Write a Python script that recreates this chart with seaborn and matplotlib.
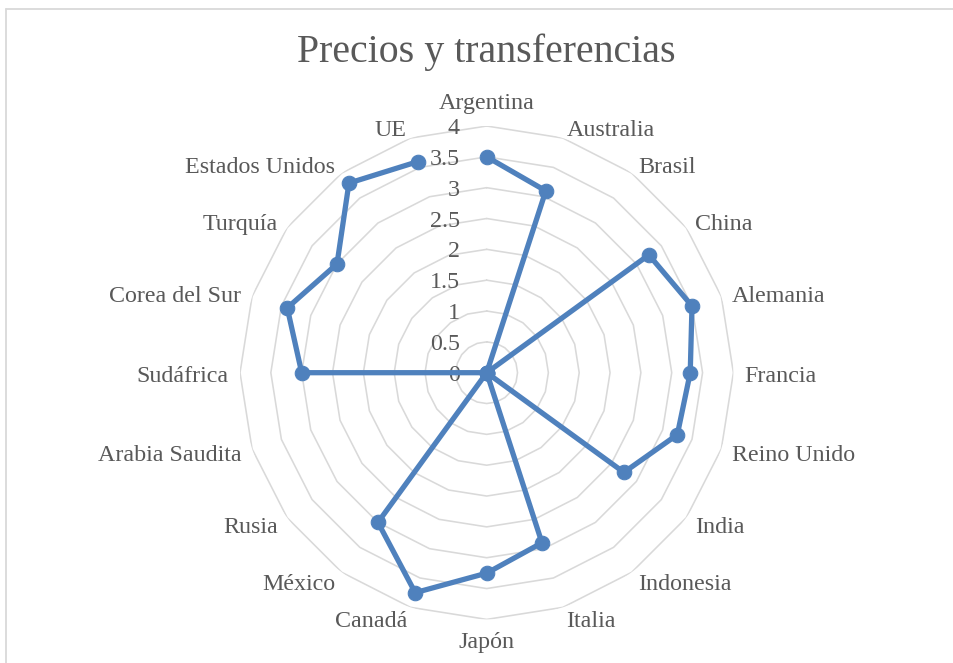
import numpy as np
import pandas as pd
import matplotlib
matplotlib.use("Agg")
import matplotlib.pyplot as plt
import seaborn as sns

# Country indicators for the radar
categories = ["Argentina", "Australia", "Brasil", "China", "Alemania", "Francia",
              "Reino Unido", "India", "Indonesia", "Italia", "Japón", "Canadá",
              "México", "Rusia", "Arabia Saudita", "Sudáfrica", "Corea del Sur",
              "Turquía", "Estados Unidos", "UE"]
values = [3.5, 3.1, 0, 3.25, 3.5, 3.3, 3.25, 2.75, 0, 2.9, 3.25, 3.75,
          3.0, 0, 0, 3.0, 3.4, 3.0, 3.8, 3.6]
r_ticks = [0, 0.5, 1, 1.5, 2, 2.5, 3, 3.5, 4]
r_tick_labels = ["0", "0.5", "1", "1.5", "2", "2.5", "3", "3.5", "4"]
title = "Precios y transferencias"

sns.set_style("white")
plt.rcParams["font.family"] = ["Liberation Serif", "DejaVu Serif"]

TEXT = "#595959"
GRID = "#d9d9d9"
LINE = "#4f81bd"

W, H = 954, 663
fig = plt.figure(figsize=(W / 100, H / 100), dpi=100)
fig.patch.set_facecolor("white")

# chart-area frame (top and left edges visible)
fig.add_artist(plt.Line2D([6.5 / W, 6.5 / W], [0, 1 - 8.5 / H],
                          transform=fig.transFigure, color=GRID, lw=1.3))
fig.add_artist(plt.Line2D([6.5 / W, 1], [1 - 8.5 / H, 1 - 8.5 / H],
                          transform=fig.transFigure, color=GRID, lw=1.3))

# polar axes centred on the plot area
cx, cy, R = 486.7, 372.7, 246.7
ax = fig.add_axes([(cx - R) / W, 1 - (cy + R) / H, 2 * R / W, 2 * R / H],
                  projection="polar")
ax.set_theta_zero_location("N")
ax.set_theta_direction(-1)
ax.set_ylim(0, r_ticks[-1])
ax.grid(False)
ax.spines["polar"].set_visible(False)
ax.set_xticks([])
ax.set_yticks([])
ax.patch.set_alpha(0)

n = len(categories)
theta = np.arange(n) * 2 * np.pi / n
theta_closed = np.append(theta, theta[0])

# polygonal grid rings
for r in r_ticks[1:]:
    ax.plot(theta_closed, np.full(n + 1, r), color=GRID, lw=1.15, zorder=1)

# series
df = pd.DataFrame({"theta": theta_closed,
                   "value": values + values[:1]})
sns.lineplot(data=df, x="theta", y="value", sort=False, ax=ax, color=LINE,
             lw=3.8, marker="o", markersize=10.5, markeredgecolor=LINE,
             markerfacecolor=LINE, zorder=3)
ax.set_xlabel("")
ax.set_ylabel("")

# radial tick labels along the top spoke
for r, lab in zip(r_ticks, r_tick_labels):
    ax.annotate(lab, xy=(0, r), xytext=(-27, -2.5), textcoords="offset pixels",
                ha="right", va="center", fontsize=17.3, color=TEXT, zorder=2)

# category labels around the outside
r_lab = r_ticks[-1] * 258 / R
for t, lab in zip(theta, categories):
    s = np.sin(t)
    c = np.cos(t)
    if abs(s) < 1e-6:
        ha = "center"
        va = "bottom" if c > 0 else "top"
        dy = 1 if c > 0 else -1
    else:
        ha = "left" if s > 0 else "right"
        va = "center"
        dy = -3.5
    ax.annotate(lab, xy=(t, r_lab), xytext=(0, dy), textcoords="offset pixels",
                ha=ha, va=va, fontsize=17.3, color=TEXT, annotation_clip=False)

fig.text(486.5 / W, 1 - 52 / H, title, ha="center", va="center",
         fontsize=28.7, color=TEXT)

fig.savefig("out.png", dpi=100, facecolor="white")
